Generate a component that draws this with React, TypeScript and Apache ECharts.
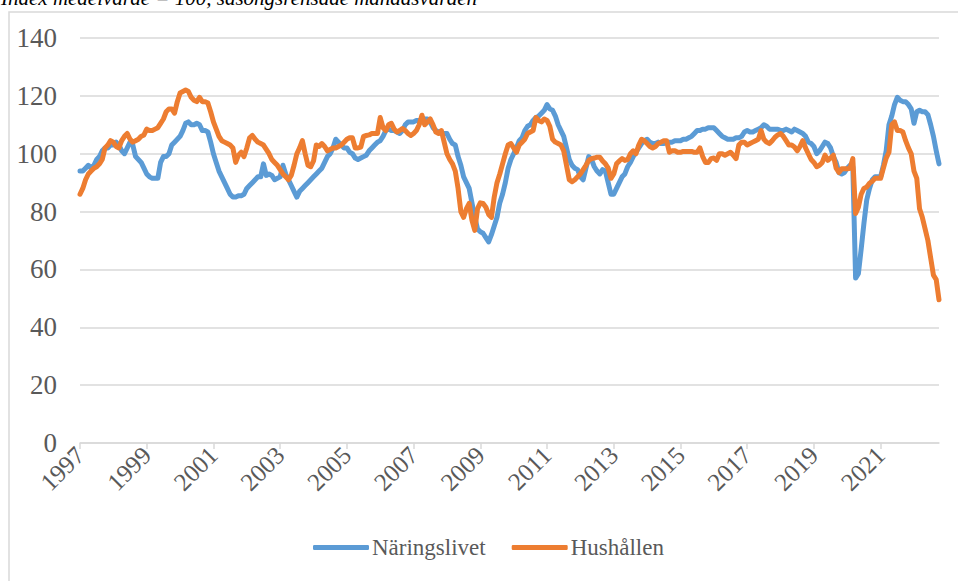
import React, { useEffect, useRef } from "react";
import * as echarts from "echarts";

const titleText = "Index medelvärde = 100, säsongsrensade månadsvärden";
const seriesNames = ["Näringslivet", "Hushållen"];
const firstYear = 1997;
const yTicks = [0, 20, 40, 60, 80, 100, 120, 140];

// Näringslivet, monthly Jan 1997 - Oct 2022
const naringslivet: number[] = [
  // 1997
  94, 94, 95, 96, 95, 96, 98, 99, 101, 102, 102, 103,
  // 1998
  103, 104, 103, 101, 100, 102, 104, 103, 99, 98, 97, 95,
  // 1999
  93, 92, 91.5, 91.5, 91.5, 97, 99, 99, 100, 103, 104, 105,
  // 2000
  106, 108, 110.5, 111, 110, 110, 110.5, 110, 108, 108, 107.5, 104,
  // 2001
  100, 97, 94, 92, 90, 88, 86, 85, 85, 85.5, 85.5, 86,
  // 2002
  88, 89, 90, 91, 92, 92, 96.5, 92.5, 93, 92.5, 91, 91.5,
  // 2003
  92, 96, 93, 91, 89, 87, 85, 87, 88, 89, 90, 91,
  // 2004
  92, 93, 94, 95, 97, 99, 100, 102, 105, 104, 103, 102,
  // 2005
  102, 100.5, 100, 98.5, 98, 98.5, 99, 99.5, 101, 102, 103, 104,
  // 2006
  104.5, 106, 108, 108.5, 108, 108, 107.5, 107, 108, 110, 111, 111,
  // 2007
  111, 111.5, 111.5, 111, 112, 112, 111, 109, 108, 107.5, 107, 107,
  // 2008
  107, 105, 103.5, 103, 99, 96, 92, 90, 88, 83, 78, 74,
  // 2009
  73, 72.5, 71, 69.5, 72, 75, 78, 83, 86, 90, 95, 98,
  // 2010
  100, 102, 104.5, 105.5, 108, 109.5, 110, 111.5, 112.5, 113, 114, 115,
  // 2011
  117, 115.5, 115, 113, 110, 108, 106, 102, 98, 96, 95, 94.5,
  // 2012
  92, 91, 95, 99, 98, 95.5, 94, 93, 94.5, 94, 90, 86,
  // 2013
  86, 88, 90, 92, 93, 95.5, 97, 99, 100.5, 102, 103.5, 104.5,
  // 2014
  105, 104, 103.5, 103.5, 104, 103.5, 103.5, 104, 104, 104, 104.5, 104.5,
  // 2015
  104.5, 105, 105, 105.5, 106, 107, 108, 108, 108.5, 108.5, 109, 109,
  // 2016
  109, 108, 107, 106, 105.5, 105, 105, 105, 105.5, 105.5, 106, 107.5,
  // 2017
  108, 107.5, 107.5, 108, 108.5, 109, 110, 109.5, 108.5, 108.5, 108.5, 108.5,
  // 2018
  108, 108, 108.5, 108, 107.5, 108.5, 108, 107.5, 107, 106, 104, 103.5,
  // 2019
  102.5, 100, 101, 102.5, 104, 103.5, 102, 99, 97, 93.5, 93, 93.5,
  // 2020
  95, 96, 95.5, 57, 58.5, 67, 76, 84, 88, 91, 92, 92,
  // 2021
  92, 96, 101, 110, 113, 117, 119.5, 118.5, 118, 118, 117, 115.5,
  // 2022
  110.5, 114.5, 115, 114.5, 114.5, 113.5, 110, 106, 101, 96.5,
];

// Hushållen, monthly Jan 1997 - Oct 2022
const hushallen: number[] = [
  // 1997
  86, 88, 91, 93, 94, 95, 95.5, 96.5, 98, 102, 103, 104.5,
  // 1998
  104, 102.5, 102, 104.5, 106, 107, 105, 104, 104.5, 105, 106, 106.5,
  // 1999
  108.5, 108, 108, 108.5, 109, 110.5, 112, 114.5, 115.5, 115.5, 114, 118,
  // 2000
  121, 121.5, 122, 121.5, 119.5, 118.5, 118, 119.5, 118, 118, 117.5, 114.5,
  // 2001
  111, 108.5, 106, 104.5, 104, 103.5, 103, 102, 97, 99.5, 100.5, 99,
  // 2002
  102, 105.5, 106.3, 105, 104, 103.5, 103, 101.5, 100, 98, 97, 96,
  // 2003
  94.5, 93, 92, 91, 92.5, 96, 100, 102, 104.5, 100, 96, 95.5,
  // 2004
  97.5, 103, 102.5, 103.5, 102.5, 101, 101.5, 102, 102, 102.5, 103, 104,
  // 2005
  105, 105.5, 105.5, 102, 102, 102.3, 106, 106.3, 106.5, 107, 107, 107,
  // 2006
  112.5, 109, 108, 110, 110.5, 108.5, 107.5, 108, 108.7, 108, 107, 106.3,
  // 2007
  107, 108, 110, 113.3, 110, 111, 112, 110, 107.5, 107, 108, 104,
  // 2008
  100, 98, 96.5, 94, 88, 80, 78, 81, 82.8, 77, 73.5, 81,
  // 2009
  83, 82.8, 81.5, 79, 78, 85, 90, 93, 96.5, 100, 103, 103.5,
  // 2010
  102, 100.5, 103, 104, 105, 107, 107.5, 108, 112.5, 111.5, 111, 112,
  // 2011
  111.5, 109.5, 105, 104, 103.5, 103, 101, 96, 91, 90.3, 91, 92,
  // 2012
  93, 94.5, 96, 97.7, 98.3, 98.5, 98.8, 98.8, 97.5, 96.5, 95, 91.5,
  // 2013
  93, 96.5, 97.5, 98.3, 97.7, 98, 100, 101, 100, 103, 105, 104.5,
  // 2014
  103.5, 102.5, 102, 102.5, 103.5, 104, 104.5, 104.5, 100.5, 101, 101, 100.5,
  // 2015
  100.5, 100.8, 100.8, 100.8, 100.8, 100.5, 100.5, 102, 99, 97, 97, 98.3,
  // 2016
  98.5, 97.7, 100, 100, 99.5, 100, 100.5, 99.5, 98.3, 103, 104, 104,
  // 2017
  103, 103.5, 104, 104.5, 105, 108, 105, 104, 103.5, 104.5, 105.7, 106.5,
  // 2018
  107, 106, 104.5, 103, 103, 102.3, 101, 102.5, 104.5, 102, 100, 98,
  // 2019
  97, 95.5, 96, 97, 99.5, 97.7, 98.5, 99.5, 95, 93.5, 94.8, 94.8,
  // 2020
  94.8, 95, 98.3, 79.3, 81.5, 86, 88, 88.5, 89.8, 90.5, 91.5, 91.5,
  // 2021
  91.5, 95, 98.5, 100.5, 110, 111, 108, 108, 107.5, 104.5, 102, 100,
  // 2022
  94, 91.5, 81, 78, 74, 70, 64, 58, 56.5, 49.5,
];

const months: string[] = naringslivet.map((_, i) => {
  const y = firstYear + Math.floor(i / 12);
  const m = (i % 12) + 1;
  return `${y}-${m < 10 ? "0" + m : m}`;
});

const FONT = "'Liberation Serif', 'Times New Roman', serif";
const GRAY = "#595959";
const GRID = "#d9d9d9";

export default function App() {
  const ref = useRef<HTMLDivElement>(null);
  useEffect(() => {
    if (!ref.current) return;
    const chart = echarts.init(ref.current, null, { renderer: "svg" });
    const showYear = (idx: number) => idx % 24 === 0;
    chart.setOption({
      animation: false,
      backgroundColor: "#ffffff",
      textStyle: { fontFamily: FONT },
      graphic: [
        {
          type: "rect",
          shape: { x: 9, y: 12, width: 980, height: 620 },
          style: { fill: "none", stroke: GRID, lineWidth: 1.5 },
          silent: true,
        },
        {
          type: "text",
          left: 1,
          top: -13,
          style: {
            text: titleText,
            font: `italic 21px ${FONT}`,
            fill: "#000000",
          },
        },
      ],
      grid: { left: 80, right: 19, top: 38, bottom: 138, containLabel: false },
      legend: {
        bottom: 17,
        left: 308,
        icon: "roundRect",
        itemWidth: 56,
        itemHeight: 5,
        itemGap: 26,
        textStyle: { fontSize: 23, color: GRAY, fontFamily: FONT, padding: [0, 0, 0, -2] },
        data: seriesNames,
      },
      xAxis: {
        type: "category",
        data: months,
        boundaryGap: false,
        axisLine: { show: true, lineStyle: { color: GRID, width: 1.5 } },
        axisTick: {
          show: true,
          interval: (idx: number) => showYear(idx),
          length: 6,
          lineStyle: { color: GRID, width: 1.5 },
        },
        axisLabel: {
          interval: (idx: number) => showYear(idx),
          formatter: (v: string) => v.slice(0, 4),
          rotate: 45,
          fontSize: 25,
          color: GRAY,
          fontFamily: FONT,
          margin: 8,
        },
        splitLine: { show: false },
      },
      yAxis: {
        type: "value",
        min: yTicks[0],
        max: yTicks[yTicks.length - 1],
        interval: 20,
        axisLine: { show: false },
        axisTick: { show: false },
        axisLabel: { fontSize: 27, color: GRAY, fontFamily: FONT, margin: 23 },
        splitLine: { lineStyle: { color: GRID, width: 1.5 } },
      },
      series: [
        {
          name: seriesNames[0],
          type: "line",
          data: naringslivet,
          showSymbol: false,
          symbol: "none",
          lineStyle: { width: 5, color: "#5B9BD5", join: "round", cap: "round" },
          itemStyle: { color: "#5B9BD5" },
        },
        {
          name: seriesNames[1],
          type: "line",
          data: hushallen,
          showSymbol: false,
          symbol: "none",
          lineStyle: { width: 5, color: "#ED7D31", join: "round", cap: "round" },
          itemStyle: { color: "#ED7D31" },
        },
      ],
    });
    return () => chart.dispose();
  }, []);
  return (
    <div
      ref={ref}
      style={{ position: "fixed", left: 0, top: 0, width: 958, height: 581, background: "#fff" }}
    />
  );
}
